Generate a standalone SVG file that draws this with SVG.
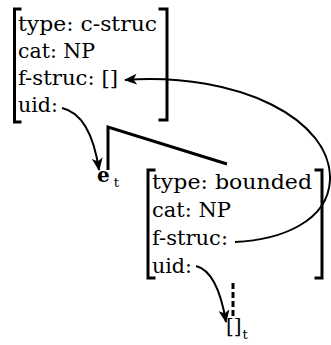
<svg xmlns="http://www.w3.org/2000/svg" width="331" height="345" viewBox="0 0 331 345">
<style>
text{font-family:"DejaVu Serif","Liberation Serif",serif;font-size:20px;fill:#000}
.br{fill:none;stroke:#000;stroke-width:3;stroke-linecap:square}
.ln{fill:none;stroke:#000;stroke-width:2}
.sub{font-size:13px;font-weight:normal}
</style>
<defs>
<marker id="ah" viewBox="0 0 13 11" refX="12" refY="5.5" markerWidth="13" markerHeight="11" markerUnits="userSpaceOnUse" orient="auto-start-reverse">
<path d="M0,0 L13,5.5 L0,11 L3.5,5.5 Z" fill="#000"/>
</marker>
</defs>
<g id="cstruc">
<path class="br" d="M20,9 H14.5 V122 H20"/>
<path class="br" d="M160,9 H167 V120 H160"/>
<text x="18" y="31" textLength="139" lengthAdjust="spacingAndGlyphs">type: c-struc</text>
<text x="18" y="58" textLength="77" lengthAdjust="spacingAndGlyphs">cat: NP</text>
<text x="18" y="85" textLength="100" lengthAdjust="spacingAndGlyphs">f-struc: []</text>
<text x="18" y="112" textLength="40" lengthAdjust="spacingAndGlyphs">uid:</text>
</g>
<g id="tree">
<path d="M108,170 V127 L227,164" fill="none" stroke="#000" stroke-width="3"/>
</g>
<g id="et">
<text x="97" y="182" font-weight="bold">e<tspan class="sub" dx="4" dy="5">t</tspan></text>
</g>
<g id="bounded">
<path class="br" d="M154,170 H148 V278 H154"/>
<path class="br" d="M316,170 H322 V278 H316"/>
<text x="152" y="189" textLength="160" lengthAdjust="spacingAndGlyphs">type: bounded</text>
<text x="152" y="217" textLength="79" lengthAdjust="spacingAndGlyphs">cat: NP</text>
<text x="152" y="245" textLength="76" lengthAdjust="spacingAndGlyphs">f-struc:</text>
<text x="152" y="273" textLength="40" lengthAdjust="spacingAndGlyphs">uid:</text>
</g>
<g id="empty">
<text x="226" y="333" font-size="17">[]<tspan class="sub" dx="1" dy="6">t</tspan></text>
</g>
<g id="connectors">
<path class="ln" d="M62,108 C80,112 93,130 99,170" marker-end="url(#ah)"/>
<path class="ln" d="M125,80 C240,72 332,120 330,180 C328,222 280,240 235,242" marker-start="url(#ah)"/>
<path class="ln" d="M196,266 C212,270 221,292 226,322" marker-end="url(#ah)"/>
<path d="M233,283 V318" fill="none" stroke="#000" stroke-width="3" stroke-dasharray="6,3"/>
</g>
</svg>
